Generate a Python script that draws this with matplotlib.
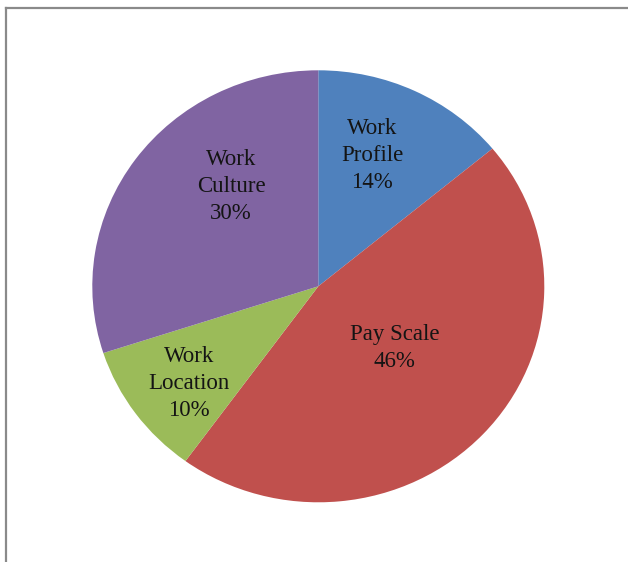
import matplotlib
matplotlib.use("Agg")
import matplotlib.pyplot as plt
from matplotlib.lines import Line2D

# share of responses per factor, clockwise from 12 o'clock
factors = ["Work\nProfile", "Pay Scale", "Work\nLocation", "Work\nCulture"]
shares = [14, 46, 10, 30]
colors = ["#4F81BD", "#C0504D", "#9BBB59", "#8064A2"]

# label centres in axes data units (pie radius = 1)
label_xy = [(0.238, 0.605), (0.339, -0.286), (-0.572, -0.450), (-0.386, 0.462)]

W, H = 628, 562
fig = plt.figure(figsize=(W / 100, H / 100), dpi=100)
fig.patch.set_facecolor("white")

# pie box in pixels: centre (318, 286), radii 226 x 216
cx, cy, rx, ry = 318.3, 286.3, 226, 216
ax = fig.add_axes([(cx - rx) / W, (H - cy - ry) / H, 2 * rx / W, 2 * ry / H])
ax.pie(shares, colors=colors, startangle=90, counterclock=False,
       wedgeprops=dict(linewidth=0))
ax.set_aspect("auto")
ax.set_xlim(-1, 1)
ax.set_ylim(-1, 1)
ax.axis("off")

for name, v, (x, y) in zip(factors, shares, label_xy):
    ax.text(x, y, f"{name}\n{v}%", ha="center", va="center",
            family="Liberation Serif", fontsize=16.5, color="#141414",
            linespacing=1.36, multialignment="center")

# frame on the top and left edges
fig.add_artist(Line2D([5.5 / W, 1], [1 - 7.5 / H, 1 - 7.5 / H],
                      transform=fig.transFigure, color="#8a8a8a", lw=1.6))
fig.add_artist(Line2D([5.5 / W, 5.5 / W], [0, 1 - 7.5 / H],
                      transform=fig.transFigure, color="#8a8a8a", lw=1.6))

fig.savefig("out.png", dpi=100, facecolor="white")
